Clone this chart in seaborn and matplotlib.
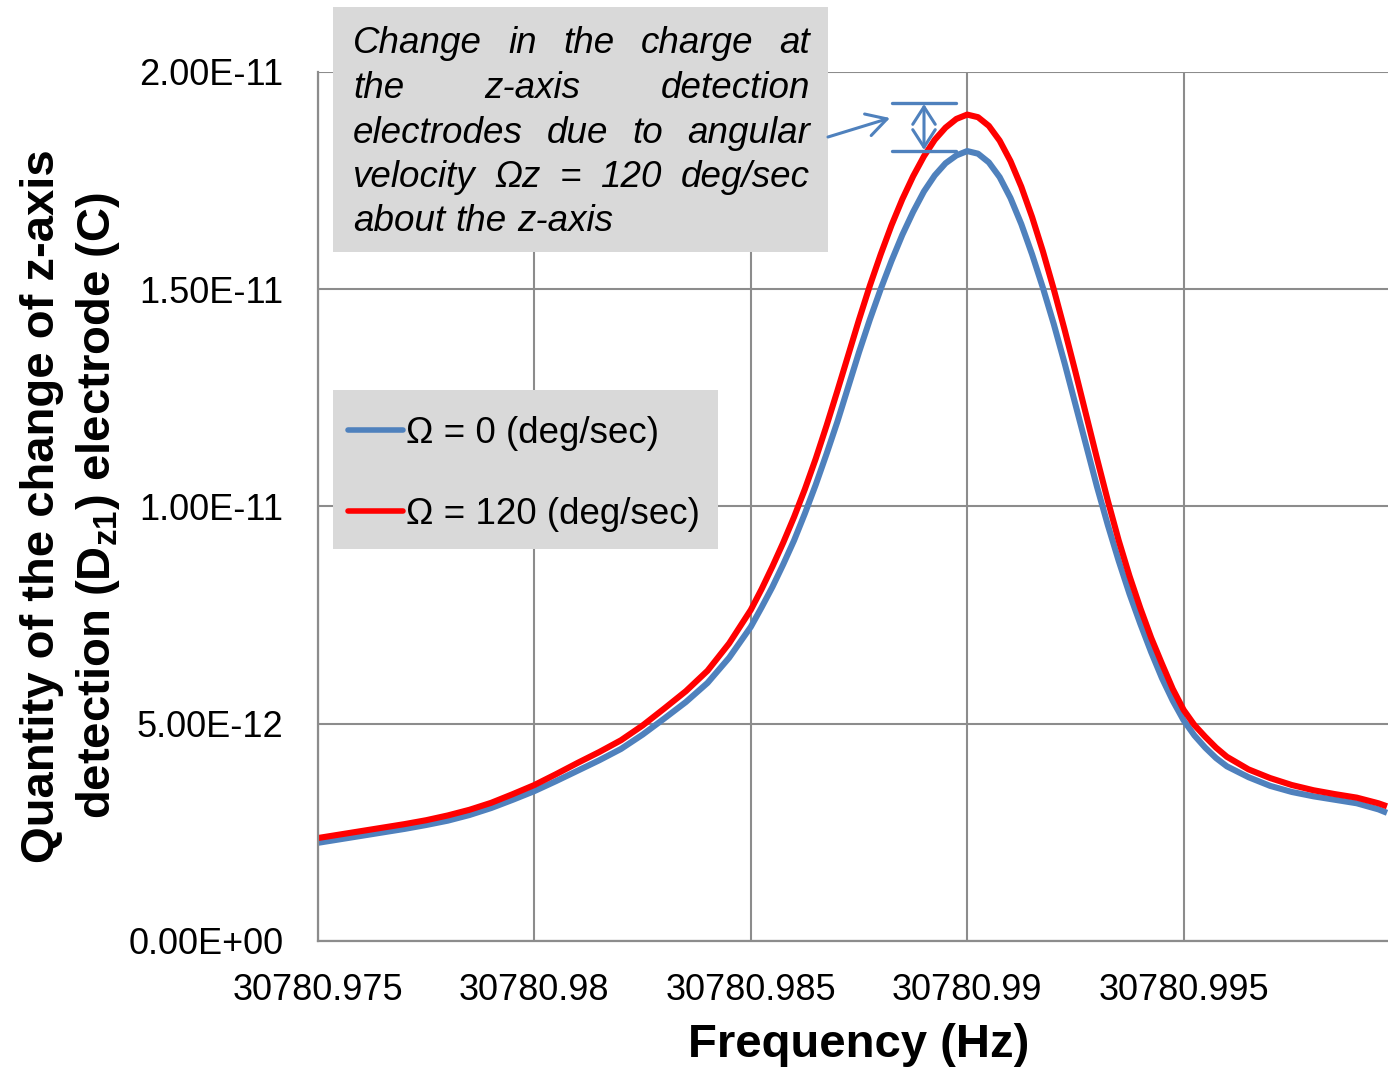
import numpy as np
import pandas as pd
import matplotlib
matplotlib.use("Agg")
import matplotlib.pyplot as plt
import seaborn as sns
from matplotlib.ticker import FixedLocator, FixedFormatter
from matplotlib.patches import Rectangle, FancyArrowPatch
from matplotlib.lines import Line2D

# ---------------- data (charge in units of 1e-12 C) ----------------
freq = [30780.975, 30780.9755, 30780.976, 30780.9765, 30780.977, 30780.9775,
        30780.978, 30780.9785, 30780.979, 30780.9795, 30780.980, 30780.9805,
        30780.981, 30780.9815, 30780.982, 30780.9825, 30780.983, 30780.9835,
        30780.984, 30780.9845, 30780.985,
        30780.98525, 30780.9855, 30780.98575, 30780.986, 30780.98625, 30780.9865,
        30780.98675, 30780.987, 30780.98725, 30780.9875, 30780.98775, 30780.988,
        30780.98825, 30780.9885, 30780.98875, 30780.989, 30780.98925, 30780.9895,
        30780.98975, 30780.990, 30780.99025, 30780.9905, 30780.99075, 30780.991,
        30780.99125, 30780.9915, 30780.99175, 30780.992, 30780.99225, 30780.9925,
        30780.99275, 30780.993, 30780.99325, 30780.9935, 30780.99375, 30780.994,
        30780.99425, 30780.9945, 30780.99475, 30780.995, 30780.99525, 30780.9955,
        30780.99575,
        30780.996, 30780.9965, 30780.997, 30780.9975, 30780.998, 30780.9985,
        30780.999, 30780.9995, 30780.9997]
charge_omega0 = [2.26, 2.34, 2.42, 2.50, 2.58, 2.67, 2.77, 2.90, 3.06, 3.25,
                 3.45, 3.68, 3.92, 4.16, 4.42, 4.75, 5.12, 5.50, 5.94, 6.52,
                 7.23,
                 7.68, 8.15, 8.67, 9.22, 9.84, 10.50, 11.21, 11.95, 12.75, 13.55,
                 14.30, 15.00, 15.65, 16.25, 16.78, 17.25, 17.62, 17.90, 18.08, 18.18,
                 18.12, 17.92, 17.58, 17.10, 16.50, 15.80, 15.03, 14.20, 13.30, 12.35,
                 11.40, 10.45, 9.57, 8.75, 7.99, 7.30, 6.65, 6.05, 5.53, 5.08,
                 4.73, 4.45, 4.21,
                 4.02, 3.77, 3.57, 3.43, 3.33, 3.25, 3.17, 3.03, 2.95]
charge_omega120 = [2.37, 2.45, 2.53, 2.61, 2.69, 2.78, 2.89, 3.02, 3.18, 3.38,
                   3.59, 3.84, 4.10, 4.35, 4.62, 4.96, 5.35, 5.75, 6.22, 6.85,
                   7.62,
                   8.10, 8.62, 9.17, 9.76, 10.40, 11.10, 11.86, 12.66, 13.48, 14.30,
                   15.08, 15.80, 16.47, 17.07, 17.60, 18.06, 18.44, 18.72, 18.92, 19.02,
                   18.96, 18.76, 18.42, 17.95, 17.36, 16.66, 15.87, 15.00, 14.07, 13.10,
                   12.10, 11.10, 10.13, 9.22, 8.40, 7.66, 6.98, 6.38, 5.80, 5.32,
                   4.97, 4.70, 4.45,
                   4.24, 3.95, 3.75, 3.59, 3.47, 3.38, 3.30, 3.17, 3.10]
series_labels = ["Ω = 0 (deg/sec)", "Ω = 120 (deg/sec)"]
series_colors = ["#4f81bd", "#ff0000"]
xtick_values = [30780.975, 30780.98, 30780.985, 30780.99, 30780.995, 30781.0]
xtick_labels = ["30780.975", "30780.98", "30780.985", "30780.99", "30780.995", ""]
ytick_values = [0.0, 5e-12, 1e-11, 1.5e-11, 2e-11]
ytick_labels = ["0.00E+00", "5.00E-12", "1.00E-11", "1.50E-11", "2.00E-11"]
annotation_lines = [["Change", "in", "the", "charge", "at"],
                    ["the", "z-axis", "detection"],
                    ["electrodes", "due", "to", "angular"],
                    ["velocity", "Ωz", "=", "120", "deg/sec"],
                    ["about", "the", "z-axis"]]
xlabel = "Frequency (Hz)"
ylabel_line1 = "Quantity of the change of z-axis"
ylabel_line2 = r"detection (D$_{\mathbf{z1}}$) electrode (C)"

# ---------------- style ----------------
sns.set_style("white")
plt.rcParams['font.family'] = ['Liberation Sans', 'DejaVu Sans']
plt.rcParams['text.color'] = 'black'
plt.rcParams['axes.labelcolor'] = 'black'
plt.rcParams['xtick.color'] = 'black'
plt.rcParams['ytick.color'] = 'black'
plt.rcParams['mathtext.fontset'] = 'custom'
plt.rcParams['mathtext.rm'] = 'Liberation Sans'
plt.rcParams['mathtext.bf'] = 'Liberation Sans:bold'
plt.rcParams['mathtext.it'] = 'Liberation Sans:italic'

W, H = 1388, 1068
fig = plt.figure(figsize=(W / 100, H / 100), dpi=100)
fig.patch.set_facecolor("white")
ax = fig.add_axes([318 / W, (H - 941) / H, (1400 - 318) / W, (941 - 72) / H])

n = len(freq)
df = pd.DataFrame({
    "freq": freq + freq,
    "charge": [v * 1e-12 for v in charge_omega0 + charge_omega120],
    "series": [series_labels[0]] * n + [series_labels[1]] * n,
})
palette = dict(zip(series_labels, series_colors))
sns.lineplot(data=df, x="freq", y="charge", hue="series", hue_order=series_labels,
             palette=palette, linewidth=4.4, legend=False, ax=ax,
             estimator=None, sort=False)
for ln in ax.lines:
    ln.set_solid_capstyle("butt")
    ln.set_solid_joinstyle("round")

ax.set_xlim(30780.975, 30781.0)
ax.set_ylim(0, 2e-11)
ax.set_xlabel("")
ax.set_ylabel("")

grid_c = "#8c8c8c"
ax.grid(True, which="major", color=grid_c, linewidth=1.5)
ax.set_axisbelow(True)
for s in ["top", "right"]:
    ax.spines[s].set_visible(False)
for s in ["left", "bottom"]:
    ax.spines[s].set_color(grid_c)
    ax.spines[s].set_linewidth(1.6)

ax.xaxis.set_major_locator(FixedLocator(xtick_values))
ax.xaxis.set_major_formatter(FixedFormatter(xtick_labels))
ax.xaxis.set_minor_locator(FixedLocator([30780.975 + i * 0.001 for i in range(26)]))
ax.yaxis.set_major_locator(FixedLocator(ytick_values))
ax.yaxis.set_major_formatter(FixedFormatter(ytick_labels))
ax.yaxis.set_minor_locator(FixedLocator([i * 1e-12 for i in range(21)]))

ax.tick_params(axis="x", which="both", direction="in", length=6, width=1.4,
               color=grid_c, labelsize=26, pad=23, labelcolor="black")
ax.tick_params(axis="y", which="both", direction="out", length=6, width=1.4,
               color=grid_c, labelsize=26, pad=19, labelcolor="black")

# axis titles
fig.text(859 / W, 1 - 1045 / H, xlabel, fontsize=34, fontweight="bold",
         ha="center", va="center", color="black")
fig.text(54 / W, 1 - 506 / H, ylabel_line1, fontsize=34, fontweight="bold",
         rotation=90, rotation_mode="anchor", ha="center", va="baseline", color="black")
fig.text(110 / W, 1 - 506 / H, ylabel_line2, fontsize=34, fontweight="bold",
         rotation=90, rotation_mode="anchor", ha="center", va="baseline", color="black")

# legend: gray panel drawn separately, legend entries placed on it
ax.add_patch(Rectangle((333 / W, 1 - 549 / H), (718 - 333) / W, (549 - 390) / H,
                       transform=fig.transFigure, facecolor="#d9d9d9",
                       edgecolor="none", zorder=4.5, clip_on=False))
handles = [Line2D([], [], color=c, lw=4.0) for c in series_colors]
leg = ax.legend(handles, series_labels, loc="upper left",
                bbox_to_anchor=(333 / W, 1 - 401 / H), bbox_transform=fig.transFigure,
                frameon=False, borderaxespad=0, fontsize=26.5, handlelength=1.5,
                handletextpad=0.08, labelspacing=1.25, borderpad=0.4)
leg.set_zorder(6)
for t in leg.get_texts():
    t.set_color("black")

# annotation box with justified italic text
fig.add_artist(Rectangle((333 / W, 1 - 252 / H), (828 - 333) / W, (252 - 7) / H,
                         transform=fig.transFigure, facecolor="#d9d9d9",
                         edgecolor="none", zorder=3))
fig.canvas.draw()
renderer = fig.canvas.get_renderer()
left_px, right_px = 353, 810
baselines = [53, 98, 143, 187, 231]
for i, words in enumerate(annotation_lines):
    texts = [fig.text(0, 1 - baselines[i] / H, w, fontsize=26.5, fontstyle="italic",
                      ha="left", va="baseline", zorder=4, color="black") for w in words]
    widths = [t.get_window_extent(renderer).width for t in texts]
    if i < len(annotation_lines) - 1:
        gap = (right_px - left_px - sum(widths)) / (len(words) - 1)
    else:
        sp = fig.text(0, 0, "a a", fontsize=26.5, fontstyle="italic")
        sp2 = fig.text(0, 0, "aa", fontsize=26.5, fontstyle="italic")
        gap = sp.get_window_extent(renderer).width - sp2.get_window_extent(renderer).width
        sp.remove(); sp2.remove()
    x = left_px
    for t, w in zip(texts, widths):
        t.set_x(x / W)
        x += w + gap

# arrow from the box and bracket at the peak
ann_c = "#4f81bd"
fig.add_artist(FancyArrowPatch((828 / W, 1 - 137 / H), (890 / W, 1 - 118 / H),
                               transform=fig.transFigure, color=ann_c, lw=2.2,
                               arrowstyle="->,head_length=0.8,head_width=0.45",
                               mutation_scale=18, shrinkA=0, shrinkB=0, zorder=5))
for yy in (103, 151):
    fig.add_artist(Line2D([892 / W, 956 / W], [1 - yy / H, 1 - yy / H],
                          transform=fig.transFigure, color=ann_c, lw=2.4, zorder=5))
fig.add_artist(FancyArrowPatch((924 / W, 1 - 104 / H), (924 / W, 1 - 150 / H),
                               transform=fig.transFigure, color=ann_c, lw=2.2,
                               arrowstyle="<->,head_length=0.7,head_width=0.45",
                               mutation_scale=18, shrinkA=0, shrinkB=0, zorder=5))

fig.savefig("out.png", dpi=100, facecolor="white")
